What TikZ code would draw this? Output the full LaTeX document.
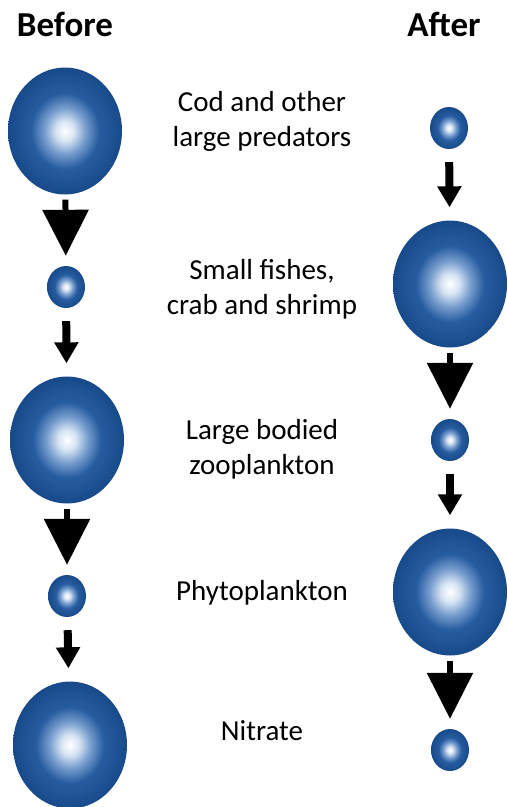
\documentclass[tikz,border=0pt]{standalone}
\usepackage{fontspec}
\setmainfont{Carlito}
\usetikzlibrary{shapes.geometric,arrows.meta}

\definecolor{balledge}{RGB}{24,74,138}
\definecolor{balldark}{RGB}{38,92,160}
\definecolor{ballmid}{RGB}{120,158,206}
\definecolor{balllight}{RGB}{215,228,243}
\pgfdeclareradialshading{sphere}{\pgfpoint{0bp}{0bp}}{color(0bp)=(white); color(4bp)=(balllight); color(9bp)=(ballmid); color(15bp)=(balldark); color(25bp)=(balledge); color(50bp)=(balledge)}

\tikzset{
  bigball/.style={ellipse,inner sep=0pt,minimum width=114pt,minimum height=127pt,shading=sphere},
  smallball/.style={ellipse,inner sep=0pt,minimum width=38pt,minimum height=42pt,shading=sphere},
  bigarrow/.style={line width=6pt,-{Triangle[length=46pt,width=45pt]},shorten <=5pt,shorten >=10pt},
  smallarrow/.style={line width=8pt,-{Triangle[length=21pt,width=23pt]},shorten <=13pt,shorten >=13pt},
  lbl/.style={align=center,font=\fontsize{29}{35}\selectfont},
  title/.style={anchor=base,font=\fontsize{35}{40}\selectfont\bfseries}
}

\begin{document}
\begin{tikzpicture}[x=1pt,y=-1pt]
\useasboundingbox (0,0) rectangle (508,807);

\node[title] (before) at (65,36) {Before};
\node[title] (after) at (444,36) {After};

% before
\node[bigball] (b1) at (65,131) {};
\node[smallball] (b2) at (66,287) {};
\node[bigball] (b3) at (67,440) {};
\node[smallball] (b4) at (67,596) {};
\node[bigball] (b5) at (70,745) {};

% after
\node[smallball] (a1) at (449,128) {};
\node[bigball] (a2) at (450,284) {};
\node[smallball] (a3) at (450,440) {};
\node[bigball] (a4) at (450,592) {};
\node[smallball] (a5) at (450,750) {};

\draw[bigarrow] (b1) -- (b2);
\draw[smallarrow] (b2) -- (b3);
\draw[bigarrow] (b3) -- (b4);
\draw[smallarrow] (b4) -- (b5);

\draw[smallarrow] (a1) -- (a2);
\draw[bigarrow] (a2) -- (a3);
\draw[smallarrow] (a3) -- (a4);
\draw[bigarrow] (a4) -- (a5);

\node[lbl] (cod) at (262,121) {Cod and other\\large predators};
\node[lbl] (fish) at (262,289) {Small fishes,\\crab and shrimp};
\node[lbl] (zoo) at (262,449) {Large bodied\\zooplankton};
\node[lbl] (phyto) at (262,593) {Phytoplankton};
\node[lbl] (nitrate) at (262,731) {Nitrate};
\end{tikzpicture}
\end{document}
